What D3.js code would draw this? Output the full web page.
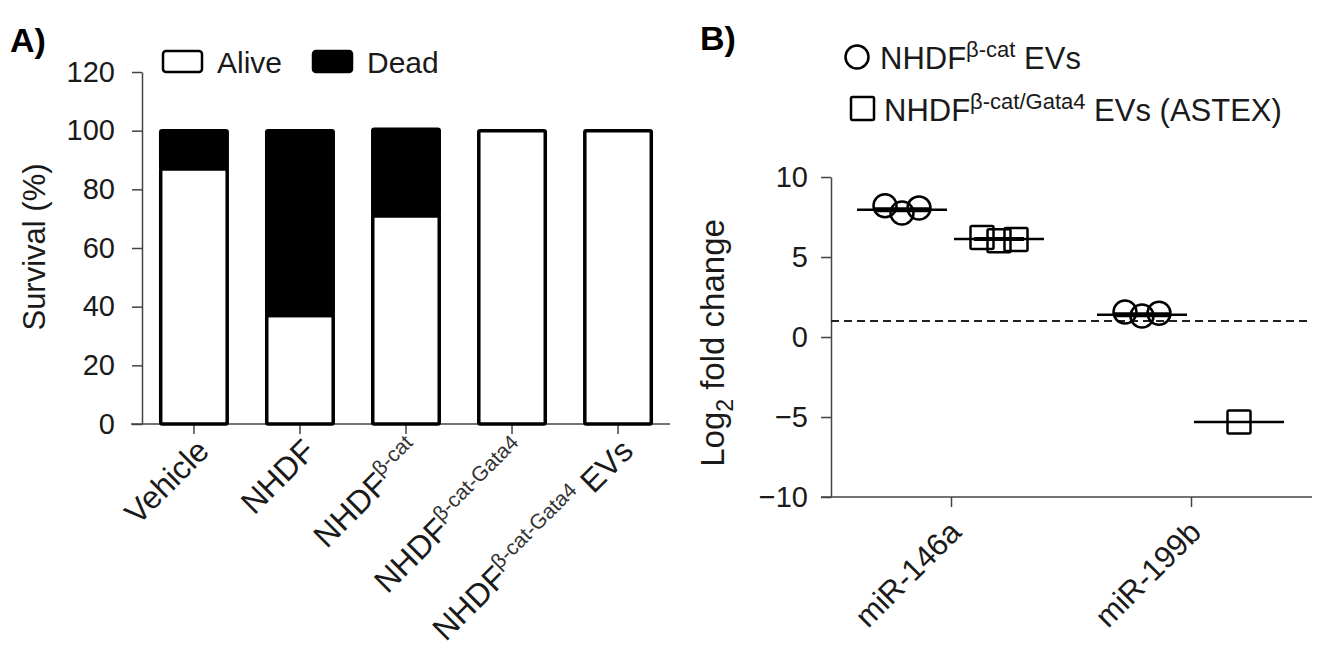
<!DOCTYPE html>
<html><head><meta charset="utf-8">
<script src="https://cdn.jsdelivr.net/npm/d3@7"></script>
<style>
html,body{margin:0;padding:0;background:#fff;}
svg{display:block;font-family:"Liberation Sans",Arial,Helvetica,sans-serif;}
</style></head><body>
<svg id="c" width="1318" height="652"></svg>
<script>
// ---------- Data: panel A ----------
const groupsA = ["Vehicle","NHDF","NHDF-bcat","NHDF-bcat-Gata4","NHDF-bcat-Gata4-EVs"];
const labelMain = ["Vehicle","NHDF","NHDF","NHDF","NHDF"];
const labelSup  = ["","","β-cat","β-cat-Gata4","β-cat-Gata4"];
const labelTail = ["","","",""," EVs"];
const alive = [87, 37, 71, 100, 100];
const dead  = [13, 63, 29.5, 0, 0];
const ticksA = [0,20,40,60,80,100,120];
const seriesA = ["Alive","Dead"];

// ---------- Data: panel B ----------
const mirnas = ["miR-146a","miR-199b"];
const bcatEVs  = [[8.2, 7.75, 8.07],[1.56, 1.31, 1.48]];
const astexEVs = [[6.22, 6.02, 6.1],[-5.32]];
const bcatMean  = [7.96, 1.39];
const astexMean = [6.13, -5.32];
const ticksB = [-10,-5,0,5,10];
const refLine = 1.0;

const svg = d3.select("#c");
const TXT = "#1a1a1a", AX = "#444";
const FS_TICK = 29, FS_LAB = 32, FS_SUP = 21, FS_LEG = 31;

// ================= Panel A =================
const yA = d3.scaleLinear().domain([0,120]).range([424,72]);
const xA = d3.scaleBand().domain(groupsA).range([142,670]).paddingInner(0.34).paddingOuter(0.16);

const gyA = svg.append("g").attr("transform","translate(142,0)")
  .call(d3.axisLeft(yA).tickValues(ticksA).tickSize(10).tickSizeOuter(0).tickPadding(17));
gyA.selectAll("text").attr("font-size",FS_TICK).attr("fill",TXT).attr("font-family",null);
gyA.selectAll("line,path").attr("stroke",AX).attr("stroke-width",1.5);

const gxA = svg.append("g").attr("transform","translate(0,424)")
  .call(d3.axisBottom(xA).tickSize(10).tickSizeOuter(0).tickFormat(""));
gxA.select(".domain").remove();
gxA.selectAll("line").attr("stroke",AX).attr("stroke-width",1.5);
svg.append("line").attr("x1",131).attr("x2",670).attr("y1",424).attr("y2",424)
  .attr("stroke",AX).attr("stroke-width",1.5);

// bars
const bw = xA.bandwidth();
groupsA.forEach((g,i)=>{
  const x0 = xA(g) + 1.75;
  const w = bw - 3.5;
  svg.append("rect").attr("x",x0).attr("width",w)
    .attr("y",yA(alive[i])).attr("height",yA(0)-yA(alive[i]))
    .attr("fill","#fff").attr("stroke","#000").attr("stroke-width",3.5).attr("rx",1.5);
  if (dead[i] > 0) {
    svg.append("rect").attr("x",x0).attr("width",w)
      .attr("y",yA(alive[i]+dead[i])).attr("height",yA(alive[i])-yA(alive[i]+dead[i]))
      .attr("fill","#000").attr("stroke","#000").attr("stroke-width",3.5).attr("rx",1.5);
  }
});

// x labels A
groupsA.forEach((g,i)=>{
  const t = svg.append("text")
    .attr("transform",`translate(${xA(g)+bw/2+17},453) rotate(-45)`)
    .attr("text-anchor","end").attr("font-size",FS_LAB).attr("fill",TXT);
  t.append("tspan").text(labelMain[i]);
  if (labelSup[i]) t.append("tspan").attr("font-size",FS_SUP).attr("fill","#333").attr("dy",-13).text(labelSup[i]);
  if (labelTail[i]) t.append("tspan").attr("font-size",FS_LAB).attr("fill",TXT).attr("dy",13).text(labelTail[i]);
});

// y title A
svg.append("text").attr("transform","translate(45,247) rotate(-90)")
  .attr("text-anchor","middle").attr("font-size",31).attr("fill",TXT).text("Survival (%)");

// legend A
const legA = [{x:163, fill:"#fff"},{x:313, fill:"#000"}];
seriesA.forEach((s,i)=>{
  svg.append("rect").attr("x",legA[i].x).attr("y",51).attr("width",39).attr("height",21)
    .attr("rx",3).attr("fill",legA[i].fill).attr("stroke","#000").attr("stroke-width",2.5);
  svg.append("text").attr("x",legA[i].x+54).attr("y",73).attr("font-size",FS_LEG-1).attr("fill",TXT).text(s);
});

svg.append("text").attr("x",10).attr("y",52).attr("font-size",34).attr("font-weight","bold").attr("fill","#000").text("A)");

// ================= Panel B =================
const yB = d3.scaleLinear().domain([-10,10]).range([497,177]);
const xB = d3.scalePoint().domain(mirnas).range([831,1311]).padding(0.5);

const gyB = svg.append("g").attr("transform","translate(831,0)")
  .call(d3.axisLeft(yB).tickValues(ticksB).tickSize(10).tickSizeOuter(0).tickPadding(13));
gyB.selectAll("text").attr("font-size",FS_TICK).attr("fill",TXT).attr("font-family",null);
gyB.selectAll("line,path").attr("stroke",AX).attr("stroke-width",1.5);

const gxB = svg.append("g").attr("transform","translate(0,497)")
  .call(d3.axisBottom(xB).tickSize(10).tickSizeOuter(0).tickFormat(""));
gxB.select(".domain").remove();
gxB.selectAll("line").attr("stroke",AX).attr("stroke-width",1.5);
svg.append("line").attr("x1",821).attr("x2",1312).attr("y1",497).attr("y2",497)
  .attr("stroke",AX).attr("stroke-width",1.5);

// reference dashed line
svg.append("line").attr("x1",831).attr("x2",1312).attr("y1",yB(refLine)).attr("y2",yB(refLine))
  .attr("stroke","#222").attr("stroke-width",2).attr("stroke-dasharray","8,5");

// x labels B
mirnas.forEach(m=>{
  svg.append("text").attr("transform",`translate(${xB(m)+12},534) rotate(-45)`)
    .attr("text-anchor","end").attr("font-size",FS_LAB-1).attr("fill",TXT).text(m);
});

// y title B
const tB = svg.append("text").attr("transform","translate(724,343) rotate(-90)")
  .attr("text-anchor","middle").attr("font-size",33).attr("fill",TXT);
tB.append("tspan").text("Log");
tB.append("tspan").attr("font-size",23).attr("dy",9).text("2");
tB.append("tspan").attr("dy",-9).text(" fold change");

// points
const OFF_C = -49, OFF_S = 48, JIT = [-17, 0, 17], HALF = 45;
mirnas.forEach((m,i)=>{
  const cx = xB(m) + OFF_C;
  svg.append("line").attr("x1",cx-HALF).attr("x2",cx+HALF)
    .attr("y1",yB(bcatMean[i])).attr("y2",yB(bcatMean[i]))
    .attr("stroke","#000").attr("stroke-width",2.5);
  bcatEVs[i].forEach((v,j)=>{
    svg.append("circle").attr("cx",cx+JIT[j]).attr("cy",yB(v)).attr("r",11.5)
      .attr("fill","none").attr("stroke","#000").attr("stroke-width",2.5);
  });
  svg.append("line").attr("x1",cx-28).attr("x2",cx+28)
    .attr("y1",yB(bcatMean[i])).attr("y2",yB(bcatMean[i]))
    .attr("stroke","#000").attr("stroke-width",5);

  const sx = xB(m) + OFF_S;
  svg.append("line").attr("x1",sx-HALF).attr("x2",sx+HALF)
    .attr("y1",yB(astexMean[i])).attr("y2",yB(astexMean[i]))
    .attr("stroke","#000").attr("stroke-width",2.5);
  const jit = astexEVs[i].length === 1 ? [0] : JIT;
  astexEVs[i].forEach((v,j)=>{
    svg.append("rect").attr("x",sx+jit[j]-11.5).attr("y",yB(v)-11.5).attr("width",23).attr("height",23)
      .attr("rx",1.5).attr("fill","none").attr("stroke","#000").attr("stroke-width",2.5);
  });
  if (astexEVs[i].length > 1) {
    svg.append("line").attr("x1",sx-25).attr("x2",sx+25)
      .attr("y1",yB(astexMean[i])).attr("y2",yB(astexMean[i]))
      .attr("stroke","#000").attr("stroke-width",4);
  }
});

// legend B
svg.append("circle").attr("cx",857).attr("cy",57).attr("r",11.5)
  .attr("fill","none").attr("stroke","#000").attr("stroke-width",2.5);
const l1 = svg.append("text").attr("x",880).attr("y",69).attr("font-size",FS_LEG).attr("fill",TXT);
l1.append("tspan").text("NHDF");
l1.append("tspan").attr("font-size",22).attr("dy",-12).text("β-cat");
l1.append("tspan").attr("dy",12).text(" EVs");

svg.append("rect").attr("x",851).attr("y",97).attr("width",23).attr("height",23).attr("rx",1.5)
  .attr("fill","none").attr("stroke","#000").attr("stroke-width",2.5);
const l2 = svg.append("text").attr("x",884).attr("y",121).attr("font-size",FS_LEG).attr("fill",TXT);
l2.append("tspan").text("NHDF");
l2.append("tspan").attr("font-size",22).attr("dy",-12).text("β-cat/Gata4");
l2.append("tspan").attr("dy",12).text(" EVs (ASTEX)");

svg.append("text").attr("x",700).attr("y",50).attr("font-size",34).attr("font-weight","bold").attr("fill","#000").text("B)");
</script>
</body></html>
